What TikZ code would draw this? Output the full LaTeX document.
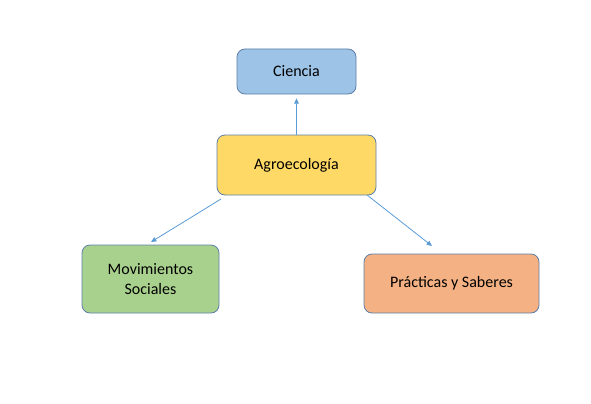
\documentclass[tikz,border=0pt]{standalone}
\usepackage{fontspec}
\setmainfont{Carlito}
\usetikzlibrary{arrows.meta}

\definecolor{cienciablue}{HTML}{9DC3E6}
\definecolor{agroyellow}{HTML}{FFD966}
\definecolor{movgreen}{HTML}{A9D18E}
\definecolor{pracorange}{HTML}{F4B183}
\definecolor{boxline}{HTML}{5E7FA8}
\definecolor{arrowblue}{HTML}{5B9BD5}

\begin{document}
\begin{tikzpicture}[x=0.75pt, y=-0.75pt, every node/.style={font=\fontsize{12}{15.5}\selectfont},
    box/.style={draw=boxline, line width=0.6pt, rounded corners=6pt, align=center, inner sep=2pt},
    arrow/.style={-{Triangle[length=4pt, width=3.5pt]}, line width=0.6pt, arrowblue}
  ]

  % Rahmen des Bildes
  \useasboundingbox (0, 0) rectangle (591, 403);

  % Kaesten
  \node[box, fill=cienciablue, minimum width=89.25pt, minimum height=33.75pt] (ciencia) at (296.5, 71.5) {Ciencia};
  \node[box, fill=agroyellow, minimum width=119.25pt, minimum height=45pt] (agro) at (296.5, 165) {Agroecología};
  \node[box, fill=movgreen, minimum width=102.75pt, minimum height=51pt] (movim) at (150.5, 279) {Movimientos\\Sociales};
  \node[box, fill=pracorange, minimum width=131.25pt, minimum height=44.25pt] (practicas) at (451.5, 283.5) {Prácticas y Saberes};

  % freie Pfeilenden
  \coordinate (agroSW) at (221, 199);
  \coordinate (movimTip) at (151, 242);
  \coordinate (agroSE) at (367, 195);
  \coordinate (practicasTip) at (432, 246);

  % Pfeile
  \draw[arrow, shorten >=3pt] (agro.north) -- (ciencia.south);
  \draw[arrow] (agroSW) -- (movimTip);
  \draw[arrow] (agroSE) -- (practicasTip);

\end{tikzpicture}
\end{document}
